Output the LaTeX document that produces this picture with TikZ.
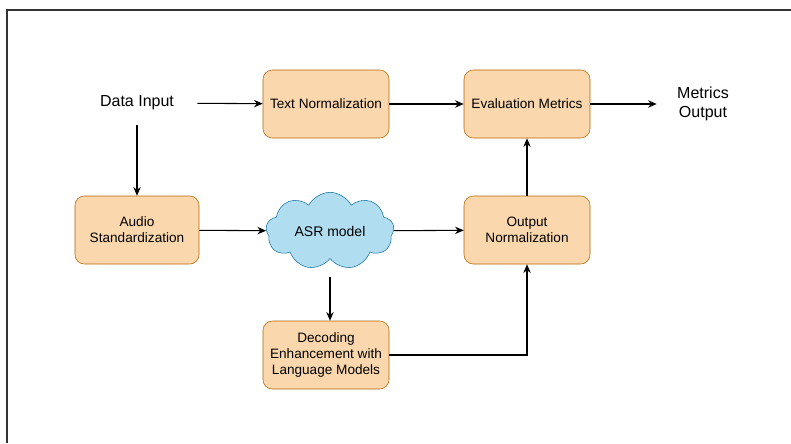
\documentclass[tikz,border=0pt]{standalone}
\usepackage{fontspec}
\setmainfont{Liberation Sans}
\usepackage{tikz}
\usetikzlibrary{arrows.meta,shapes.symbols}

\definecolor{boxfill}{HTML}{FAD7AC}
\definecolor{boxline}{HTML}{B46504}
\definecolor{cloudfill}{HTML}{B1DDF0}
\definecolor{cloudline}{HTML}{10739E}

\begin{document}
\begin{tikzpicture}[x=0.75pt,y=-0.75pt]
		\useasboundingbox (0,0) rectangle (791,443);
		\draw[line width=1pt,black!80] (7,443) -- (7,10) -- (791,10);
		\tikzstyle{step box}=[rectangle,rounded corners=7pt,draw=boxline,fill=boxfill,minimum width=94.5pt,minimum height=51pt,align=center,font=\fontsize{10.2}{12.2}\selectfont,inner sep=2pt]
		\tikzstyle{plain text}=[align=center,font=\fontsize{12}{14}\selectfont,inner sep=0pt]
		\tikzstyle{flow}=[-{Stealth[length=6.5pt,width=5.5pt]},line width=0.8pt]
		\node[plain text,minimum width=90pt,minimum height=33pt] (g_in) at (137,103) {Data Input};
		\node[step box] (g_text) at (326,104) {Text Normalization};
		\node[step box] (g_eval) at (527,104) {Evaluation Metrics};
		\node[plain text,minimum width=69pt,minimum height=33pt] (g_out) at (703,104) {Metrics\\Output};
		\node[step box,minimum width=93pt] (g_audio) at (137,230) {Audio\\Standardization};
		\node[cloud,cloud puffs=9,cloud puff arc=125,aspect=1.7,draw=cloudline,fill=cloudfill,minimum width=96pt,minimum height=58pt,inner sep=0pt,font=\fontsize{10.5}{13}\selectfont] (g_asr) at (330,231) {ASR model};
		\node[step box] (g_onorm) at (527,230) {Output\\Normalization};
		\node[step box] (g_dec) at (326,355) {Decoding\\Enhancement with\\Language Models};
		\draw[flow] (g_in) -- (g_text);
		\draw[flow] (g_text) -- (g_eval);
		\draw[flow] (g_eval) -- (g_out);
		\draw[flow] (g_in) -- (g_audio);
		\draw[flow] (g_audio) -- (g_asr);
		\draw[flow] (g_asr) -- (g_onorm);
		\draw[flow] (g_asr.south |- 0,277) -- (g_dec.north -| g_asr.south);
		\draw[flow] (g_dec) -| (g_onorm);
		\draw[flow] (g_onorm) -- (g_eval);
	\end{tikzpicture}
\end{document}
